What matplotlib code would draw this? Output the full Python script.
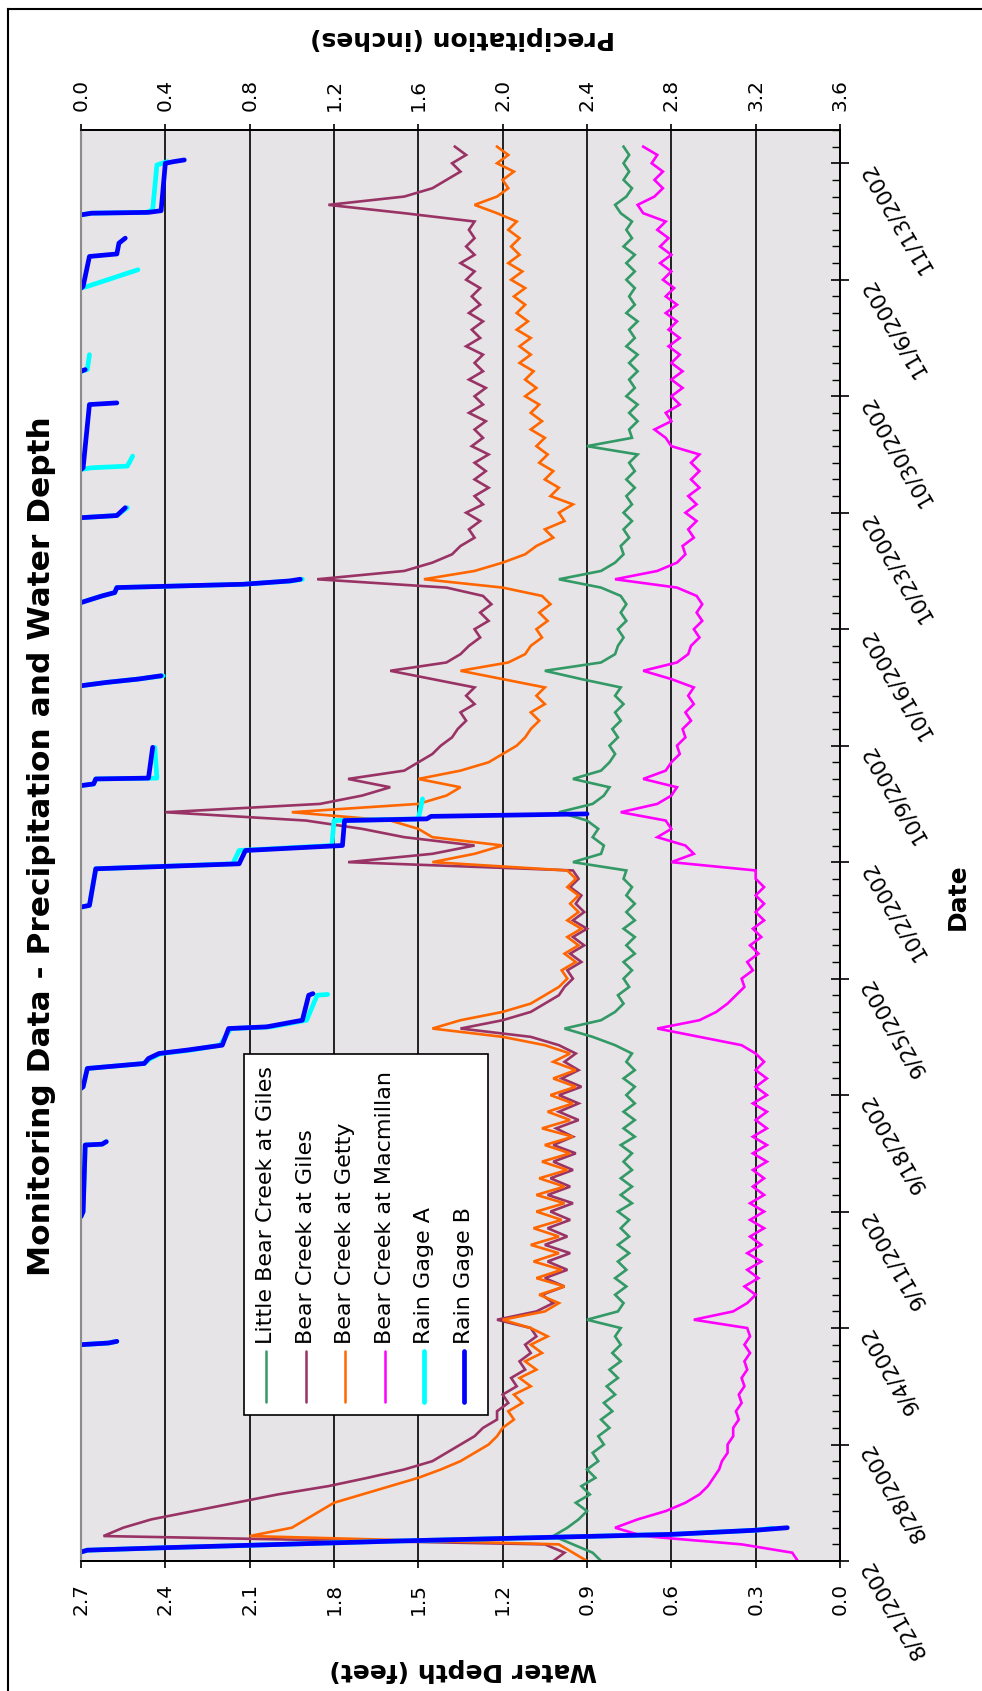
import numpy as np
import matplotlib
matplotlib.use("Agg")
import matplotlib.pyplot as plt
import matplotlib.dates as mdates
from matplotlib.ticker import FixedLocator, FuncFormatter
from matplotlib.patches import Rectangle
from matplotlib.lines import Line2D
import datetime as dt

# ---------------- data ----------------
# water depth (feet), one reading every 12 hours from 8/21/2002 00:00
start = dt.datetime(2002, 8, 21)
n_half_days = 171

little_bear_giles = [
    0.85, 0.88, 0.95, 1.02, 0.97, 0.93, 0.90, 0.94, 0.89, 0.92,
    0.87, 0.90, 0.86, 0.88, 0.84, 0.86, 0.82, 0.85, 0.81, 0.84,
    0.80, 0.83, 0.79, 0.82, 0.78, 0.81, 0.78, 0.80, 0.78, 0.90,
    0.79, 0.77, 0.80, 0.76, 0.80, 0.76, 0.79, 0.75, 0.79, 0.75,
    0.78, 0.75, 0.79, 0.74, 0.78, 0.74, 0.78, 0.74, 0.77, 0.74,
    0.78, 0.73, 0.77, 0.73, 0.77, 0.73, 0.76, 0.73, 0.77, 0.73,
    0.76, 0.74, 0.80, 0.88, 0.98, 0.85, 0.80, 0.77, 0.79, 0.75,
    0.77, 0.74, 0.77, 0.73, 0.76, 0.73, 0.77, 0.73, 0.76, 0.73,
    0.76, 0.74, 0.77, 0.76, 0.95, 0.85, 0.84, 0.88, 0.86, 0.90,
    1.00, 0.88, 0.84, 0.82, 0.95, 0.85, 0.82, 0.80, 0.82, 0.79,
    0.81, 0.78, 0.80, 0.77, 0.80, 0.78, 0.92, 1.05, 0.85, 0.80,
    0.79, 0.77, 0.79, 0.76, 0.78, 0.76, 0.78, 0.85, 1.00, 0.85,
    0.80, 0.77, 0.78, 0.75, 0.77, 0.74, 0.77, 0.74, 0.76, 0.73,
    0.76, 0.73, 0.75, 0.72, 0.90, 0.74, 0.75, 0.72, 0.75, 0.72,
    0.76, 0.73, 0.75, 0.72, 0.75, 0.72, 0.76, 0.73, 0.75, 0.72,
    0.76, 0.73, 0.75, 0.73, 0.76, 0.73, 0.76, 0.73, 0.77, 0.74,
    0.76, 0.74, 0.78, 0.80, 0.76, 0.74, 0.77, 0.75, 0.77, 0.75,
    0.77,
]

bear_giles = [
    1.02, 0.98, 1.05, 2.62, 2.55, 2.45, 2.30, 2.15, 2.00, 1.82,
    1.68, 1.55, 1.45, 1.40, 1.35, 1.30, 1.27, 1.22, 1.22, 1.18,
    1.20, 1.15, 1.17, 1.12, 1.14, 1.10, 1.12, 1.08, 1.10, 1.22,
    1.08, 1.02, 1.06, 0.98, 1.05, 0.97, 1.04, 0.96, 1.05, 0.97,
    1.04, 0.96, 1.03, 0.95, 1.04, 0.96, 1.03, 0.95, 1.02, 0.94,
    1.02, 0.95, 1.01, 0.93, 1.00, 0.93, 1.00, 0.92, 0.99, 0.93,
    0.98, 0.94, 1.00, 1.10, 1.35, 1.20, 1.10, 1.05, 1.00, 0.98,
    0.95, 0.97, 0.92, 0.96, 0.91, 0.95, 0.90, 0.95, 0.91, 0.94,
    0.92, 0.96, 0.93, 0.95, 1.75, 1.45, 1.30, 1.55, 1.70, 1.90,
    2.40, 1.85, 1.70, 1.60, 1.75, 1.55, 1.50, 1.45, 1.42, 1.38,
    1.36, 1.33, 1.35, 1.30, 1.33, 1.30, 1.45, 1.60, 1.40, 1.35,
    1.32, 1.28, 1.30, 1.25, 1.28, 1.24, 1.27, 1.40, 1.86, 1.55,
    1.45, 1.38, 1.35, 1.30, 1.32, 1.28, 1.33, 1.27, 1.30, 1.25,
    1.30, 1.26, 1.30, 1.25, 1.31, 1.27, 1.30, 1.26, 1.32, 1.27,
    1.30, 1.26, 1.32, 1.27, 1.30, 1.27, 1.33, 1.28, 1.31, 1.27,
    1.32, 1.28, 1.31, 1.28, 1.33, 1.30, 1.35, 1.30, 1.33, 1.30,
    1.32, 1.30, 1.55, 1.82, 1.55, 1.45, 1.40, 1.35, 1.38, 1.33,
    1.37,
]

bear_getty = [
    0.90, 0.95, 1.00, 2.10, 1.95, 1.90, 1.85, 1.80, 1.70, 1.60,
    1.50, 1.42, 1.35, 1.30, 1.25, 1.22, 1.20, 1.16, 1.18, 1.13,
    1.16, 1.10, 1.14, 1.08, 1.12, 1.06, 1.10, 1.04, 1.10, 1.20,
    1.05, 1.00, 1.07, 0.98, 1.08, 0.99, 1.09, 1.00, 1.10, 1.00,
    1.09, 0.99, 1.08, 0.98, 1.08, 0.98, 1.07, 0.97, 1.06, 0.96,
    1.05, 0.95, 1.06, 0.96, 1.04, 0.95, 1.03, 0.94, 1.02, 0.94,
    1.02, 0.96, 1.05, 1.20, 1.45, 1.35, 1.20, 1.10, 1.05, 1.00,
    0.97, 0.99, 0.94, 0.98, 0.93, 0.97, 0.92, 0.97, 0.93, 0.96,
    0.93, 0.97, 0.94, 0.97, 1.45, 1.30, 1.20, 1.45, 1.50, 1.60,
    1.95, 1.50, 1.40, 1.35, 1.50, 1.35, 1.25, 1.20, 1.15, 1.12,
    1.10, 1.07, 1.10, 1.05, 1.08, 1.05, 1.20, 1.35, 1.18, 1.12,
    1.10, 1.06, 1.08, 1.04, 1.07, 1.03, 1.06, 1.20, 1.48, 1.30,
    1.20, 1.12, 1.08, 1.02, 1.05, 0.98, 1.00, 0.95, 1.03, 1.00,
    1.05, 1.02, 1.07, 1.04, 1.08, 1.05, 1.10, 1.06, 1.10, 1.07,
    1.12, 1.08, 1.12, 1.09, 1.14, 1.10, 1.14, 1.10, 1.15, 1.11,
    1.15, 1.12, 1.16, 1.12, 1.17, 1.13, 1.18, 1.14, 1.17, 1.14,
    1.18, 1.15, 1.22, 1.30, 1.22, 1.18, 1.20, 1.16, 1.22, 1.18,
    1.22,
]

bear_macmillan = [
    0.15, 0.17, 0.35, 0.70, 0.80, 0.72, 0.62, 0.55, 0.50, 0.47,
    0.45, 0.43, 0.42, 0.40, 0.40, 0.38, 0.38, 0.36, 0.37, 0.35,
    0.36, 0.34, 0.35, 0.33, 0.34, 0.32, 0.34, 0.32, 0.33, 0.52,
    0.38, 0.33, 0.30, 0.34, 0.29, 0.33, 0.28, 0.33, 0.28, 0.32,
    0.27, 0.32, 0.27, 0.32, 0.27, 0.31, 0.27, 0.31, 0.26, 0.31,
    0.26, 0.31, 0.26, 0.30, 0.26, 0.31, 0.26, 0.30, 0.26, 0.30,
    0.27, 0.30, 0.35, 0.50, 0.65, 0.50, 0.44, 0.40, 0.37, 0.34,
    0.35, 0.31, 0.33, 0.29, 0.32, 0.28, 0.31, 0.27, 0.30, 0.27,
    0.30, 0.27, 0.30, 0.30, 0.60, 0.52, 0.55, 0.65, 0.60, 0.62,
    0.78, 0.65, 0.60, 0.58, 0.70, 0.62, 0.60, 0.57, 0.58, 0.55,
    0.56, 0.53, 0.55, 0.52, 0.54, 0.52, 0.60, 0.70, 0.58, 0.54,
    0.53, 0.50, 0.52, 0.49, 0.51, 0.49, 0.51, 0.58, 0.80, 0.65,
    0.58, 0.55, 0.56, 0.52, 0.54, 0.51, 0.55, 0.51, 0.54, 0.50,
    0.53, 0.50, 0.53, 0.50, 0.60, 0.62, 0.66, 0.60, 0.62, 0.57,
    0.60, 0.56, 0.60, 0.56, 0.60, 0.57, 0.61, 0.57, 0.61, 0.58,
    0.62, 0.58, 0.62, 0.59, 0.63, 0.60, 0.64, 0.60, 0.64, 0.61,
    0.65, 0.62, 0.70, 0.72, 0.66, 0.63, 0.66, 0.63, 0.67, 0.65,
    0.70,
]

# cumulative storm precipitation (inches); nan ends a storm
nan = np.nan
rain_b_days = [0.54, 0.65, 0.80, 1.20, 1.60, 1.85, 1.95, 2.00, nan,
               13.0, 13.1, 13.2, nan,
               20.7, 21.0, 25.0, 25.05, 25.2, nan,
               28.4, 28.5, 29.6, 29.9, 30.2, 30.5, 30.7, 31.0, 32.0, 32.1, 32.5, 34.0, 34.1, nan,
               39.3, 39.4, 41.6, 41.9, 42.7, 43.0, 44.5, 44.6, 44.75, 44.9, nan,
               46.6, 46.7, 47.0, 47.05, 48.9, nan,
               52.6, 52.8, 53.0, 53.2, nan,
               57.6, 58.0, 58.2, 58.5, 58.7, 58.9, 59.0, nan,
               62.7, 62.83, 63.3, nan,
               65.6, 65.7, 69.5, 69.6, nan,
               71.5, 71.6, nan,
               76.5, 76.6, 78.4, 78.55, 79.2, 79.5, nan,
               80.9, 81.0, 81.05, 81.15, 84.0, 84.1, 84.2]
rain_b = [0.0, 0.03, 0.40, 1.50, 2.80, 3.20, 3.30, 3.35, nan,
          0.0, 0.13, 0.17, nan,
          0.0, 0.01, 0.02, 0.10, 0.12, nan,
          0.0, 0.01, 0.03, 0.30, 0.32, 0.37, 0.50, 0.67, 0.70, 0.88, 1.05, 1.08, 1.10, nan,
          0.0, 0.04, 0.07, 0.75, 0.78, 1.24, 1.25, 1.64, 1.66, 2.40, nan,
          0.0, 0.06, 0.07, 0.32, 0.34, nan,
          0.0, 0.12, 0.27, 0.38, nan,
          0.0, 0.10, 0.16, 0.17, 0.77, 0.99, 1.04, nan,
          0.0, 0.17, 0.21, nan,
          0.0, 0.01, 0.04, 0.17, nan,
          0.0, 0.02, nan,
          0.0, 0.01, 0.04, 0.17, 0.18, 0.21, nan,
          0.0, 0.05, 0.32, 0.38, 0.40, 0.44, 0.49]

rain_a_days = [0.54, 0.65, 0.80, 1.20, 1.60, 1.85, 1.97, nan,
               13.0, 13.1, 13.2, nan,
               20.7, 21.0, 25.0, 25.05, 25.2, nan,
               28.4, 28.5, 29.6, 29.9, 30.2, 30.5, 30.7, 31.0, 32.0, 32.1, 32.5, 34.0, 34.05, nan,
               39.3, 39.4, 41.6, 41.9, 42.7, 43.0, 44.5, 44.6, 45.8, nan,
               46.6, 46.7, 47.0, 47.05, 48.9, nan,
               52.6, 52.8, 53.0, 53.2, nan,
               57.6, 58.0, 58.2, 58.5, 58.7, 58.9, 59.0, nan,
               62.7, 62.83, 63.3, nan,
               65.6, 65.7, 65.8, 66.4, nan,
               71.5, 71.6, 72.5, nan,
               76.5, 76.6, 77.1, 77.6, nan,
               80.9, 81.0, 81.05, 81.2, 83.9, 84.1]
rain_a = [0.0, 0.03, 0.40, 1.50, 2.80, 3.20, 3.28, nan,
          0.0, 0.13, 0.17, nan,
          0.0, 0.01, 0.02, 0.10, 0.12, nan,
          0.0, 0.01, 0.03, 0.30, 0.33, 0.38, 0.52, 0.66, 0.71, 0.90, 1.07, 1.12, 1.17, nan,
          0.0, 0.04, 0.07, 0.72, 0.75, 1.19, 1.20, 1.60, 1.62, nan,
          0.0, 0.06, 0.07, 0.36, 0.35, nan,
          0.0, 0.12, 0.27, 0.39, nan,
          0.0, 0.10, 0.16, 0.17, 0.77, 1.00, 1.05, nan,
          0.0, 0.17, 0.22, nan,
          0.0, 0.05, 0.22, 0.245, nan,
          0.0, 0.03, 0.04, nan,
          0.0, 0.03, 0.15, 0.27, nan,
          0.0, 0.05, 0.31, 0.34, 0.36, 0.41]

creek_series = [
    ("Little Bear Creek at Giles", little_bear_giles, "#339966"),
    ("Bear Creek at Giles", bear_giles, "#993366"),
    ("Bear Creek at Getty", bear_getty, "#ff6600"),
    ("Bear Creek at Macmillan", bear_macmillan, "#ff00ff"),
]
rain_series = [
    ("Rain Gage A", rain_a_days, rain_a, "#00ffff"),
    ("Rain Gage B", rain_b_days, rain_b, "#0000ff"),
]

depth_ticks = [0.0, 0.3, 0.6, 0.9, 1.2, 1.5, 1.8, 2.1, 2.4, 2.7]
precip_ticks = [0.0, 0.4, 0.8, 1.2, 1.6, 2.0, 2.4, 2.8, 3.2, 3.6]

# ---------------- figure ----------------
W, H = 982, 1691
fig = plt.figure(figsize=(W / 100, H / 100), dpi=100)
fig.patch.set_facecolor("white")


def fx(px):
    return px / W


def fy(py):
    return 1 - py / H


plot_l, plot_r, plot_t, plot_b = 81, 840, 130, 1561
ax = fig.add_axes([fx(plot_l), fy(plot_b), fx(plot_r - plot_l), (plot_b - plot_t) / H])
ax.set_facecolor("#e6e4e6")

t0 = mdates.date2num(start)
half_day_t = t0 + 0.5 * np.arange(n_half_days)

for name, vals, col in creek_series:
    ax.plot(vals, half_day_t, color=col, lw=1.9, solid_joinstyle="miter")

ax.set_xlim(2.7, 0.0)
ax.set_ylim(t0, t0 + 86)

# depth axis (bottom)
ax.xaxis.set_major_locator(FixedLocator(depth_ticks))
ax.xaxis.set_major_formatter(FuncFormatter(lambda v, p: f"{v:.1f}"))
ax.tick_params(axis="x", which="major", direction="out", length=5, width=1.2,
               labelsize=14.5, labelrotation=90, pad=10.5)
ax.grid(axis="x", color="black", lw=1.2)
xt = ax.xaxis.get_major_ticks()
xt[0].gridline.set_visible(False)
xt[-1].gridline.set_visible(False)

# date axis (right)
week_ticks = mdates.date2num([start + dt.timedelta(days=7 * k) for k in range(13)])
day_ticks = mdates.date2num([start + dt.timedelta(days=k) for k in range(87)])
ax.yaxis.set_major_locator(FixedLocator(week_ticks))
ax.yaxis.set_minor_locator(FixedLocator(day_ticks))


def date_fmt(v, p):
    d = mdates.num2date(v)
    return f"{d.month}/{d.day}/{d.year}"


ax.yaxis.set_major_formatter(FuncFormatter(date_fmt))
ax.tick_params(axis="y", which="both", left=False, labelleft=False, right=True, labelright=True)
ax.tick_params(axis="y", which="major", direction="inout", length=13, width=1.2,
               labelsize=15.5, pad=12)
ax.tick_params(axis="y", which="minor", direction="in", length=6, width=1.0)
for lab in ax.get_yticklabels():
    lab.set_rotation(120)
    lab.set_rotation_mode("anchor")
    lab.set_ha("right")
    lab.set_va("center")

for side in ["right", "bottom", "top"]:
    ax.spines[side].set_color("black")
    ax.spines[side].set_linewidth(1.3)
ax.spines["left"].set_color("#8c8c8c")
ax.spines["left"].set_linewidth(1.5)

# precipitation axis (top)
ax2 = ax.twiny()
for name, days, vals, col in rain_series:
    ax2.plot(vals, t0 + np.asarray(days, dtype=float), color=col, lw=3.4,
             solid_capstyle="round", solid_joinstyle="round")
ax2.set_xlim(0.0, 3.6)
ax2.set_ylim(t0, t0 + 86)
ax2.xaxis.set_major_locator(FixedLocator(precip_ticks))
ax2.xaxis.set_major_formatter(FuncFormatter(lambda v, p: f"{v:.1f}"))
ax2.tick_params(axis="x", which="major", direction="out", length=4, width=1.2,
                labelsize=14.5, labelrotation=90, pad=9.5)
for side in ["right", "bottom", "top"]:
    ax2.spines[side].set_color("black")
    ax2.spines[side].set_linewidth(1.3)
ax2.spines["left"].set_color("#8c8c8c")
ax2.spines["left"].set_linewidth(1.5)

# titles
fig.text(fx(42), fy(846), "Monitoring Data - Precipitation and Water Depth",
         rotation=90, ha="center", va="center", fontsize=22.5, fontweight="bold")
fig.text(fx(463), fy(38), "Precipitation (inches)", rotation=180,
         ha="center", va="center", fontsize=18, fontweight="bold")
fig.text(fx(463), fy(1670), "Water Depth (feet)", rotation=180,
         ha="center", va="center", fontsize=18, fontweight="bold")
fig.text(fx(958), fy(897), "Date", rotation=90,
         ha="center", va="center", fontsize=18, fontweight="bold")

# legend drawn sideways like the rest of the chart
box_l, box_r, box_t, box_b = 244, 488, 1054, 1415
fig.add_artist(Rectangle((fx(box_l), fy(box_b)), fx(box_r - box_l), (box_b - box_t) / H,
                         transform=fig.transFigure, facecolor="white",
                         edgecolor="black", lw=1.2, zorder=5))
entries = [(n, c, 1.8) for n, v, c in creek_series] + [(n, c, 3.4) for n, d, v, c in rain_series]
for k, (name, col, lw) in enumerate(entries):
    x = 266 + 39.6 * k
    fig.add_artist(Line2D([fx(x), fx(x)], [fy(1402), fy(1351)], transform=fig.transFigure,
                          color=col, lw=lw, solid_capstyle="round", zorder=6))
    fig.text(fx(x), fy(1344), name, rotation=90, ha="center", va="bottom",
             fontsize=16, zorder=6)

# outer frame (left and top edges are what is visible)
fig.add_artist(Line2D([fx(7.5), fx(7.5)], [fy(9), 0], transform=fig.transFigure,
                      color="black", lw=1.5))
fig.add_artist(Line2D([fx(7.5), 1], [fy(9), fy(9)], transform=fig.transFigure,
                      color="black", lw=1.5))

fig.savefig("out.png", dpi=100)
